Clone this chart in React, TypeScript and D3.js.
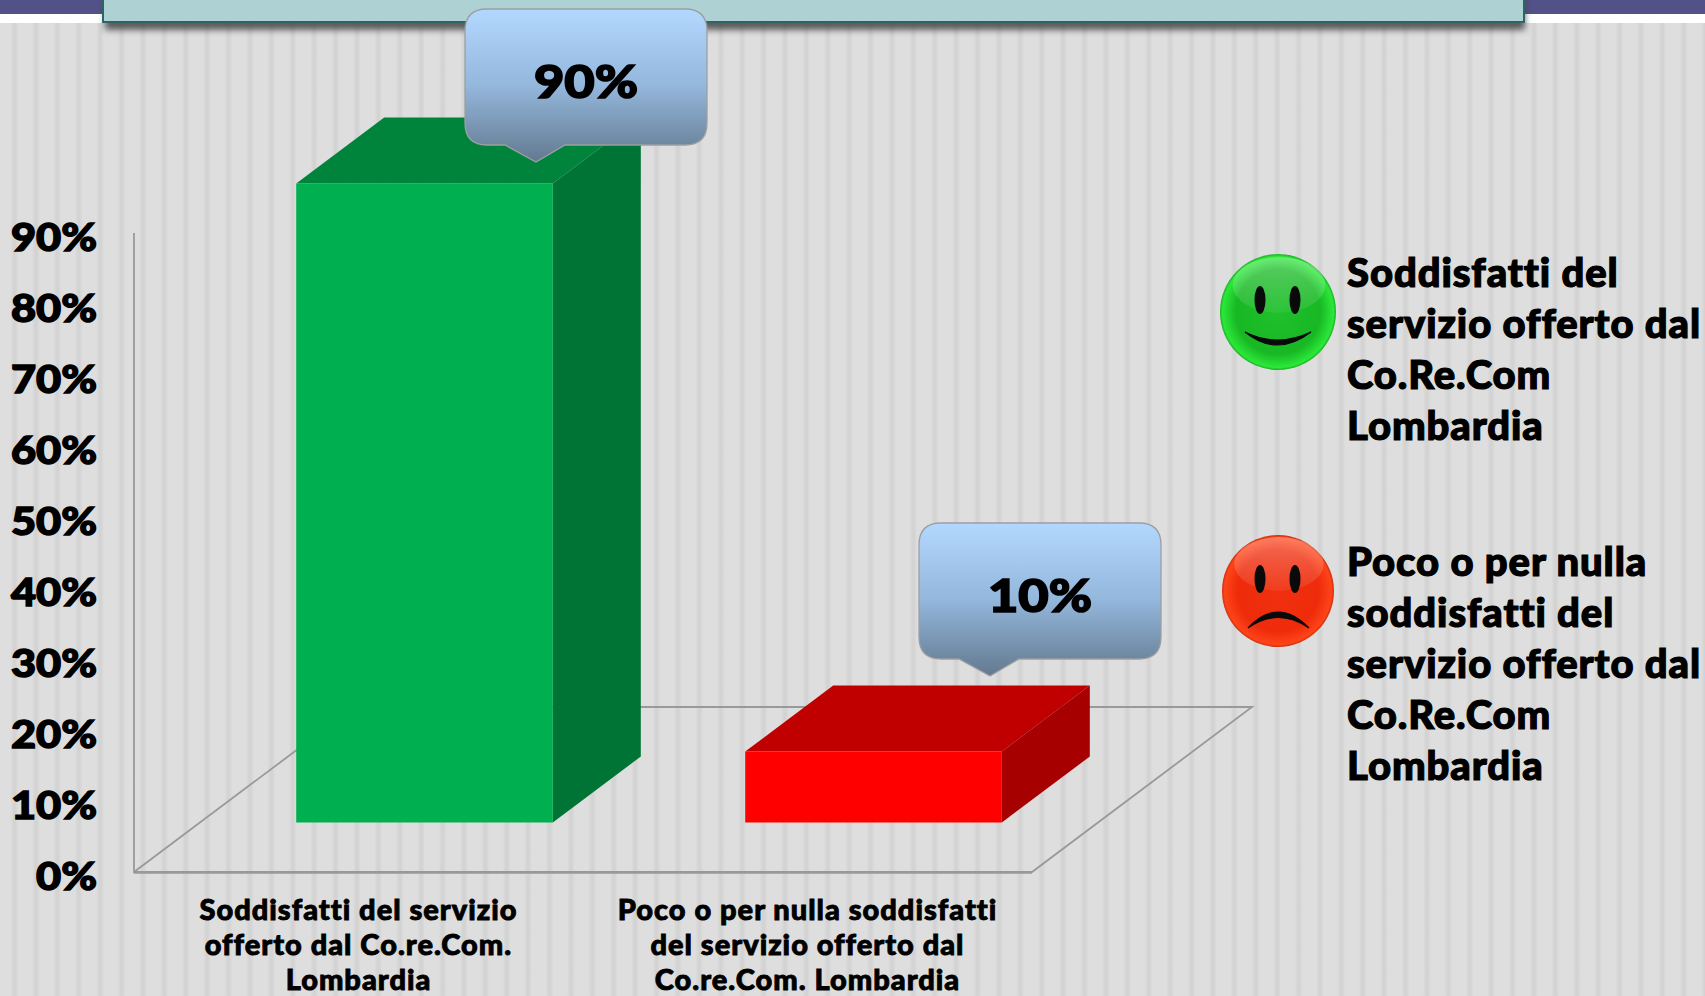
import React from "react";
import * as d3 from "d3";

const categories = ["Soddisfatti", "Poco o per nulla"];
const values = [90, 10];
const yTicks = [0, 10, 20, 30, 40, 50, 60, 70, 80, 90];
const categoryLines = [
    ["Soddisfatti del servizio", "offerto dal Co.re.Com.", "Lombardia"],
    ["Poco o per nulla soddisfatti", "del servizio offerto dal", "Co.re.Com. Lombardia"],
];
const legendGood = ["Soddisfatti del", "servizio offerto dal", "Co.Re.Com", "Lombardia"];
const legendBad = ["Poco o per nulla", "soddisfatti del", "servizio offerto dal", "Co.Re.Com", "Lombardia"];
const barColours = [
    {front: "#00b050", top: "#00843c", side: "#007434"},
    {front: "#ff0000", top: "#c00000", side: "#a60000"},
];

const WIDTH = 1705;
const HEIGHT = 996;
const FONT = "Lato, 'Open Sans', sans-serif";

// floor of the 3d plot
const floorLeft = 134;
const floorRight = 1032;
const floorDx = 220;
const floorDy = 165;
const gapShare = 0.3;
const depthShare = 0.4;

const x = d3.scaleBand().domain(categories).range([floorLeft, floorRight]).paddingInner(0.4285).paddingOuter(0.21425);
const y = d3.scaleLinear().domain([0, 90]).range([872, 233]);

const poly = (pts: number[][]) => d3.line()(pts as [number, number][]) + "Z";

// the original font is heavier and wider than anything installed, so stroke and stretch
const heavy = (w: number) => ({fontFamily: FONT, fontWeight: 900, fill: "#000", stroke: "#000", strokeWidth: w});

const Callout = ({left, right, top, bottom, tipX, tipY, baseL, baseR, textY, label}: any) => {
    const r = 22;
    const d = `M${left + r},${top}H${right - r}Q${right},${top} ${right},${top + r}V${bottom - r}Q${right},${bottom} ${right - r},${bottom}`
        + `H${baseR}L${tipX},${tipY}L${baseL},${bottom}H${left + r}Q${left},${bottom} ${left},${bottom - r}V${top + r}Q${left},${top} ${left + r},${top}Z`;
    return (
        <g>
            <path d={d} fill="url(#calloutFill)" stroke="#9c9fa3" strokeWidth={1.3}/>
            <text transform={`translate(${(left + right) / 2},${textY}) scale(1.14,1)`} textAnchor="middle" fontSize={46} {...heavy(1.6)}>{label}</text>
        </g>
    );
};

const Face = ({cx, cy, r, fill, happy}: any) => (
    <g>
        <circle cx={cx} cy={cy} r={r} fill={`url(#${fill})`}/>
        <ellipse cx={cx + 1} cy={cy - 27} rx={r * 0.8} ry={r * 0.48} fill="url(#gloss)"/>
        <ellipse cx={cx - 18} cy={cy - 12} rx={5.5} ry={14} fill="#0a0a0a"/>
        <ellipse cx={cx + 17} cy={cy - 12} rx={5.5} ry={14} fill="#0a0a0a"/>
        {happy
            ? <path d={`M${cx - 33},${cy + 20}Q${cx - 1},${cy + 46} ${cx + 33},${cy + 20}Q${cx - 1},${cy + 36} ${cx - 33},${cy + 20}Z`} fill="#0a0a0a" stroke="#0a0a0a" strokeWidth={1.2}/>
            : <path d={`M${cx - 30},${cy + 37}Q${cx},${cy + 5} ${cx + 31},${cy + 37}Q${cx},${cy + 16} ${cx - 30},${cy + 37}Z`} fill="#0a0a0a" stroke="#0a0a0a" strokeWidth={1.2}/>}
    </g>
);

const App = () => {
    const baseY = y(0);
    const gapX = floorDx * gapShare;
    const gapY = floorDy * gapShare;
    const depthX = floorDx * depthShare;
    const depthY = floorDy * depthShare;

    return (
        <svg width={WIDTH} height={HEIGHT} viewBox={`0 0 ${WIDTH} ${HEIGHT}`} style={{position: "absolute", left: 0, top: 0, display: "block"}}>
            <defs>
                <linearGradient id="stripe" x1="0" x2="1" y1="0" y2="0">
                    <stop offset="0" stopColor="#dedede"/>
                    <stop offset="0.5" stopColor="#dedede"/>
                    <stop offset="0.64" stopColor="#d3d3d3"/>
                    <stop offset="0.72" stopColor="#d3d3d3"/>
                    <stop offset="0.86" stopColor="#dedede"/>
                    <stop offset="1" stopColor="#dedede"/>
                </linearGradient>
                <pattern id="stripes" width={21.4} height={10} patternUnits="userSpaceOnUse">
                    <rect width={21.4} height={10} fill="url(#stripe)"/>
                </pattern>
                <linearGradient id="calloutFill" x1="0" x2="0" y1="0" y2="1">
                    <stop offset="0" stopColor="#b3d8ff"/>
                    <stop offset="0.5" stopColor="#94b7dc"/>
                    <stop offset="1" stopColor="#63798f"/>
                </linearGradient>
                <radialGradient id="greenFace" cx="0.5" cy="0.5" r="0.52">
                    <stop offset="0" stopColor="#1fc02c"/>
                    <stop offset="0.7" stopColor="#18b824"/>
                    <stop offset="0.92" stopColor="#2be838"/>
                    <stop offset="1" stopColor="#0d7a15"/>
                </radialGradient>
                <radialGradient id="redFace" cx="0.5" cy="0.5" r="0.52">
                    <stop offset="0" stopColor="#f0300f"/>
                    <stop offset="0.7" stopColor="#ee2c0c"/>
                    <stop offset="0.92" stopColor="#ff4418"/>
                    <stop offset="1" stopColor="#9a1a05"/>
                </radialGradient>
                <linearGradient id="gloss" x1="0" x2="0" y1="0" y2="1">
                    <stop offset="0" stopColor="#fff" stopOpacity={0.3}/>
                    <stop offset="1" stopColor="#fff" stopOpacity={0.06}/>
                </linearGradient>
                <filter id="panelShadow" x="-5%" y="-50%" width="110%" height="250%">
                    <feGaussianBlur stdDeviation={3}/>
                </filter>
            </defs>

            <rect width={WIDTH} height={HEIGHT} fill="url(#stripes)"/>
            <rect width={WIDTH} height={14} fill="#525188"/>
            <rect y={14} width={WIDTH} height={9} fill="#ffffff"/>
            <rect x={105} y={-4} width={1420} height={34} fill="#444" opacity={0.85} filter="url(#panelShadow)"/>
            <rect x={103} y={-4} width={1421} height={26} fill="#aed2d4" stroke="#2f6366" strokeWidth={2}/>

            {/* floor and back wall edge */}
            <path
                d={`M${floorLeft},${y(90)}V${baseY}H${floorRight}L${floorRight + floorDx},${baseY - floorDy}H${floorLeft + floorDx}L${floorLeft},${baseY}`}
                fill="none" stroke="#999" strokeWidth={1.8}
            />
            <line x1={floorLeft} x2={floorRight} y1={baseY + 0.5} y2={baseY + 0.5} stroke="#999" strokeWidth={2.4}/>

            {categories.map((c, i) => {
                const x0 = (x(c) as number) + gapX;
                const x1 = x0 + x.bandwidth();
                const bottom = baseY - gapY;
                const top = y(values[i]) - gapY;
                const col = barColours[i];
                return (
                    <g key={c}>
                        <path d={poly([[x0, top], [x0 + depthX, top - depthY], [x1 + depthX, top - depthY], [x1, top]])} fill={col.top}/>
                        <path d={poly([[x1, top], [x1 + depthX, top - depthY], [x1 + depthX, bottom - depthY], [x1, bottom]])} fill={col.side}/>
                        <rect x={x0} y={top} width={x.bandwidth()} height={bottom - top} fill={col.front}/>
                    </g>
                );
            })}

            <Callout left={465} right={707} top={9} bottom={145} tipX={536} tipY={162} baseL={505} baseR={565} textY={98} label={`${values[0]}%`}/>
            <Callout left={919} right={1161} top={523} bottom={659} tipX={990} tipY={676} baseL={959} baseR={1019} textY={612} label={`${values[1]}%`}/>

            {yTicks.map(t => (
                <text key={t} transform={`translate(97,${y(t) + 18}) scale(1.14,1)`} textAnchor="end" fontSize={38} {...heavy(1.4)}>{t}%</text>
            ))}

            {categories.map((c, i) => categoryLines[i].map((line, j) => (
                <text key={line} x={(x(c) as number) + x.bandwidth() / 2} y={920 + j * 35} textAnchor="middle" fontSize={29} letterSpacing={1} {...heavy(0.9)}>{line}</text>
            )))}

            <Face cx={1278} cy={312} r={58} fill="greenFace" happy={true}/>
            <Face cx={1278} cy={591} r={56} fill="redFace" happy={false}/>

            {legendGood.map((line, i) => (
                <text key={line} x={1347} y={287 + i * 51} fontSize={40} letterSpacing={0.9} {...heavy(1.2)}>{line}</text>
            ))}
            {legendBad.map((line, i) => (
                <text key={line} x={1347} y={576 + i * 51} fontSize={40} letterSpacing={0.9} {...heavy(1.2)}>{line}</text>
            ))}
        </svg>
    );
};

export default App;
